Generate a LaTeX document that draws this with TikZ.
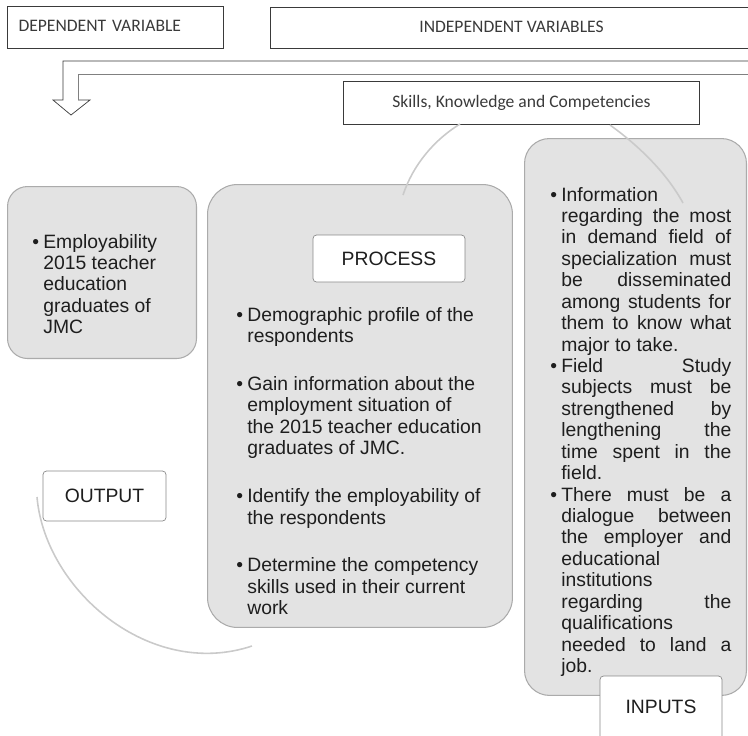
\documentclass[tikz,border=0pt]{standalone}
\usepackage{fontspec}
\setmainfont{Liberation Sans}
\newfontfamily\calfont{Carlito}
\usetikzlibrary{positioning}
\definecolor{boxfill}{HTML}{E3E3E3}
\definecolor{boxline}{HTML}{ABABAB}
\definecolor{arcline}{HTML}{CACACA}
\definecolor{inktext}{HTML}{1E1E1E}
\definecolor{topline}{HTML}{3A3A3A}
\newcommand{\bitem}[1]{\par\noindent\hangindent=0.22cm\hangafter=1\makebox[0.22cm][l]{\textbullet}#1\par}
\tikzset{
  roundbox/.style={draw=boxline, fill=boxfill, line width=0.6pt, anchor=north west, inner sep=0pt},
  lblbox/.style={draw=boxline!80!black, fill=white, rounded corners=2pt, inner sep=0pt, font=\fontsize{11}{12}\selectfont, text=inktext},
  topbox/.style={draw=topline, line width=0.6pt, anchor=north west, inner sep=0pt, font=\calfont\fontsize{10}{12}\selectfont, text=topline},
  bodytext/.style={inner sep=0pt, anchor=base west, font=\fontsize{11}{12.2}\selectfont, text=inktext},
  cycarc/.style={draw=arcline, line width=0.9pt}
}
\begin{document}
\begin{tikzpicture}[x=0.02cm, y=-0.02cm]
\useasboundingbox (0,0) rectangle (748,735);
\clip (0,0) rectangle (748,735);
% header boxes
\node[topbox, minimum width=4.32cm, minimum height=0.84cm, text width=3.88cm, inner xsep=0.22cm, align=left] (dep) at (7,6) {\raisebox{0.06cm}{DEPENDENT VARIABLE}};
\node[topbox, minimum width=9.64cm, minimum height=0.82cm] (indep) at (270,7) {\raisebox{0.03cm}{INDEPENDENT VARIABLES}};
\node[topbox, minimum width=7.12cm, minimum height=0.86cm] (skills) at (343,81) {\raisebox{0.08cm}{Skills, Knowledge and Competencies}};
% block arrow
\draw[topline] (752,61) -- (63,61) -- (63,100) -- (53,100) -- (71,115) -- (90,100) -- (78,100);
\draw[gray] (78,100) -- (78,74) -- (752,74);
% grey boxes
\node[roundbox, rounded corners=0.4cm, minimum width=3.78cm, minimum height=3.44cm] (outbox) at (7,186) {};
\node[roundbox, rounded corners=0.6cm, minimum width=6.1cm, minimum height=8.86cm] (procbox) at (207,184) {};
\node[roundbox, rounded corners=0.5cm, minimum width=4.44cm, minimum height=11.14cm] (inbox) at (524,138) {};
% texts
\node[bodytext] (outtext) at (32,248) {\parbox[t]{3.3cm}{%
\bitem{Employability\newline 2015 teacher\newline education\newline graduates of\newline JMC}}};
\node[bodytext] (proctext) at (236,321) {\parbox[t]{5.3cm}{%
\bitem{Demographic profile of the\newline respondents}\vspace{0.53cm}
\bitem{Gain information about the\newline employment situation of\newline the 2015 teacher education\newline graduates of JMC.}\vspace{0.53cm}
\bitem{Identify the employability of\newline the respondents}\vspace{0.53cm}
\bitem{Determine the competency\newline skills used in their current\newline work}}};
\node[bodytext] (intext) at (550,201) {\parbox[t]{3.62cm}{\emergencystretch=1em
\bitem{Information\newline regarding the most\linebreak in demand field of\linebreak specialization must\linebreak be disseminated\linebreak among students for\linebreak them to know what\linebreak major to take.}
\bitem{Field Study\linebreak subjects must be\linebreak strengthened by\linebreak lengthening the\linebreak time spent in the\linebreak field.}
\bitem{There must be a\linebreak dialogue between\linebreak the employer and\linebreak educational\newline institutions\newline regarding the\linebreak qualifications\newline needed to land a\linebreak job.}}};
% labels
\node[lblbox, minimum width=3.04cm, minimum height=0.94cm] (process) at (389,258.5) {PROCESS};
\node[lblbox, minimum width=2.46cm, minimum height=1.0cm] (output) at (104.5,496) {OUTPUT};
\node[lblbox, minimum width=2.44cm, minimum height=1.28cm] (inputs) at (661,708) {\raisebox{0.05cm}{INPUTS}};
% cycle arcs
\coordinate (arcA1) at (37,497);
\coordinate (arcA2) at (252,646);
\coordinate (arcB1) at (460,124);
\coordinate (arcB2) at (403,195);
\coordinate (arcC1) at (610,125);
\coordinate (arcC2) at (683,203);
\draw[cycarc] (arcA1) .. controls (45,590) and (150,680) .. (arcA2);
\draw[cycarc] (arcB1) .. controls (434,140) and (413,165) .. (arcB2);
\draw[cycarc] (arcC1) .. controls (635,143) and (665,170) .. (arcC2);
\end{tikzpicture}
\end{document}
